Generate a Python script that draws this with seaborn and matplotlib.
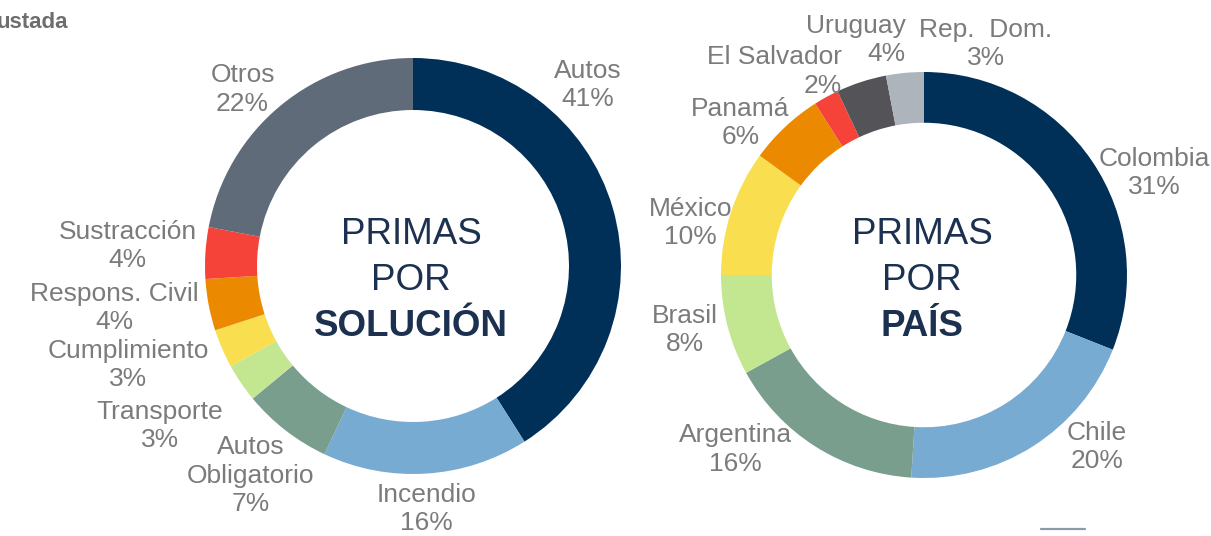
import numpy as np
import matplotlib
matplotlib.use("Agg")
import matplotlib.pyplot as plt
import seaborn as sns

# data: primas por solución
sol_labels = ["Autos", "Incendio", "Autos\nObligatorio", "Transporte", "Cumplimiento",
              "Respons. Civil", "Sustracción", "Otros"]
sol_values = [41, 16, 7, 3, 3, 4, 4, 22]
sol_colors = ["#003057", "#78abd1", "#799e8e", "#c3e691", "#f9df50",
              "#eb8a00", "#f5433a", "#5f6b78"]

# data: primas por país
pais_labels = ["Colombia", "Chile", "Argentina", "Brasil", "México",
               "Panamá", "El Salvador", "Uruguay", "Rep.  Dom."]
pais_values = [31, 20, 16, 8, 10, 6, 2, 4, 3]
pais_colors = ["#003057", "#78abd1", "#799e8e", "#c3e691", "#f9df50",
               "#eb8a00", "#f5433a", "#545458", "#adb4bc"]

# label placement: distance (in radii) and angle tweak (degrees) per slice
sol_dist = [1.21, 1.17, 1.275, 1.44, 1.45, 1.45, 1.375, 1.18]
sol_dang = [-29.9, 0.5, 0.0, 2.0, 4.3, 2.8, 0.4, -4.4]
pais_dist = [1.24, 1.2, 1.265, 1.21, 1.18, 1.175, 1.245, 1.207, 1.18]
pais_dang = [10.3, -12.8, 14.8, 1.5, -5.5, -7.2, -7.6, 1.8, 20.4]
pais_align = ["center"] * 6 + ["right", "right", "center"]

sns.set_theme(style="white")
plt.rcParams["font.family"] = ["Liberation Sans", "DejaVu Sans"]

W, H = 1211, 536
fig = plt.figure(figsize=(W / 100, H / 100), dpi=100)
ax = fig.add_axes([0, 0, 1, 1])
ax.axis("off")

label_color = "#7b7b7b"
title_color = "#1c3150"


def donut(values, labels, colors, center, r, dist, dang, align, word):
    pal = sns.color_palette(colors)
    ax.pie(values, colors=pal, center=center, radius=r, startangle=90,
           counterclock=False, wedgeprops=dict(width=r * 0.25, linewidth=0))
    cum = np.cumsum(values) - np.array(values) / 2
    mids = cum / np.sum(values) * 360
    for lab, v, m, d, da, al in zip(labels, values, mids, dist, dang, align):
        t = np.deg2rad(m + da)
        x = center[0] + d * r * np.sin(t)
        y = center[1] + d * r * np.cos(t)
        ax.text(x, y, f"{lab}\n{v}%", ha="center", va="center",
                multialignment=al, fontsize=19, color=label_color,
                linespacing=1.22)
    # centre caption, one line at a time (last one bold)
    for txt, yy, fw in [("PRIMAS", 235, "normal"), ("POR", 280.5, "normal"),
                        (word, 326, "bold")]:
        ax.text(center[0] - 2, H - yy, txt, ha="center", va="center",
                fontsize=26.5, color=title_color, fontweight=fw)


donut(sol_values, sol_labels, sol_colors, (413, H - 266), 208,
      sol_dist, sol_dang, ["center"] * len(sol_values), "SOLUCIÓN")
donut(pais_values, pais_labels, pais_colors, (924, H - 275), 203,
      pais_dist, pais_dang, pais_align, "PAÍS")

ax.set_aspect("equal")
ax.set_xlim(0, W)
ax.set_ylim(0, H)

fig.text(-0.003, 1 - 22 / H, "ustada", ha="left", va="center",
         fontsize=16, fontweight="bold", color="#6e6e6e")
fig.add_artist(plt.Line2D([1041 / W, 1085 / W], [1 - 529 / H, 1 - 529 / H],
                          color="#8e99aa", linewidth=1.6))

fig.savefig("out.png", dpi=100)
